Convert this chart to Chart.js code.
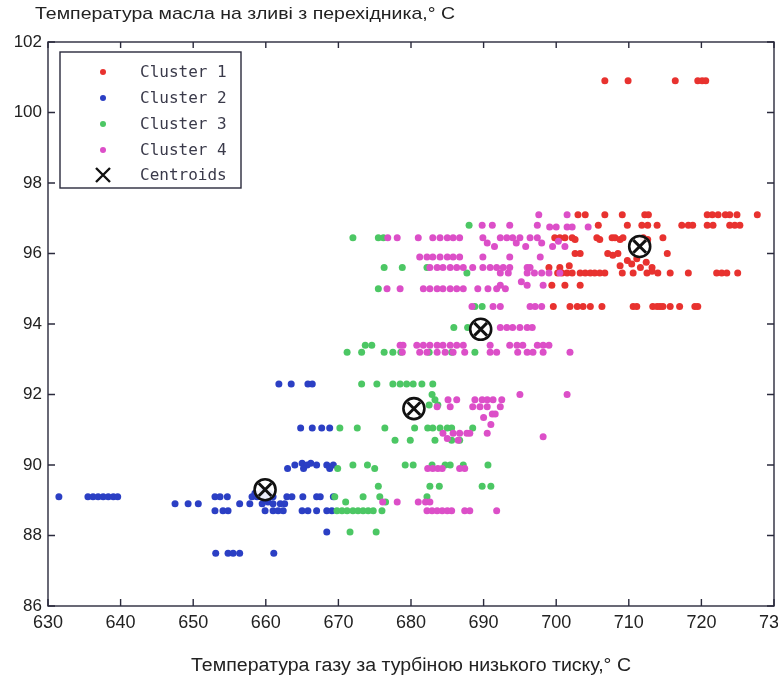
<!DOCTYPE html>
<html><head><meta charset="utf-8">
<script src="https://cdn.jsdelivr.net/npm/chart.js@4/dist/chart.umd.min.js"></script>
<style>
html,body{margin:0;padding:0;background:#fff;overflow:hidden;}
#wrap{position:relative;width:800px;height:684px;}
</style></head><body>
<div id="wrap"><canvas id="c" width="800" height="684"></canvas></div>
<script>
const xTicks = [630,640,650,660,670,680,690,700,710,720,730];
const yTicks = [86,88,90,92,94,96,98,100,102];
const yTitle = 'Температура масла на зливі з перехідника,° C';
const xTitle = 'Температура газу за турбіною низького тиску,° C';
const seriesNames = ['Cluster 1','Cluster 2','Cluster 3','Cluster 4','Centroids'];

const cluster1 = [
[706.7,100.9],[709.9,100.9],[716.4,100.9],[719.5,100.9],[720.1,100.9],[720.6,100.9],
[703.0,97.1],[704.0,97.1],[706.7,97.1],[709.1,97.1],[712.2,97.1],[712.7,97.1],[720.8,97.1],[721.5,97.1],[722.3,97.1],[723.3,97.1],[723.9,97.1],[724.9,97.1],[727.7,97.1],
[705.8,96.8],[709.8,96.8],[711.8,96.8],[712.6,96.8],[713.9,96.8],[717.3,96.8],[718.2,96.8],[718.8,96.8],[720.8,96.8],[721.6,96.8],[723.9,96.8],[724.6,96.8],[725.3,96.8],
[699.8,96.45],[700.5,96.45],[701.2,96.45],[702.2,96.45],[702.6,96.4],[705.6,96.45],[706.0,96.4],[707.7,96.45],[708.1,96.45],[708.8,96.4],[709.2,96.45],[712.0,96.45],[712.6,96.4],[714.7,96.45],
[702.6,96.0],[703.3,96.0],[707.1,96.0],[707.8,95.95],[708.5,96.0],[715.3,96.0],
[708.8,95.65],[709.8,95.8],[710.4,95.7],[711.1,95.85],[711.6,95.6],[712.4,95.75],[713.2,95.6],
[699.0,95.6],[700.5,95.6],[701.8,95.65],
[700.2,95.45],[700.8,95.45],[701.5,95.45],[702.2,95.45],[703.3,95.45],[704.0,95.45],[704.7,95.45],[705.3,95.45],[706.0,95.45],[706.7,95.45],[709.1,95.45],[710.6,95.45],[712.5,95.45],[713.2,95.5],[714.0,95.45],[715.7,95.45],[718.2,95.45],[722.1,95.45],[722.8,95.45],[723.5,95.45],[725.0,95.45],
[699.4,95.1],[701.2,95.1],[703.3,95.1],
[699.6,94.5],[701.9,94.5],[702.9,94.5],[703.7,94.5],[704.7,94.5],[706.3,94.5],[710.6,94.5],[711.1,94.5],[713.3,94.5],[713.9,94.5],[714.3,94.5],[714.7,94.5],[715.7,94.5],[717.0,94.5],[719.1,94.5],[719.5,94.5]
];

const cluster2 = [
[661.8,92.3],[663.5,92.3],[665.8,92.3],[666.4,92.3],
[664.8,91.05],[666.4,91.05],[667.7,91.05],[668.8,91.05],
[664.0,90.0],[665.0,90.05],[665.7,90.0],[666.2,90.05],[667.0,90.0],[668.4,90.0],[669.3,90.0],
[663.0,89.9],[665.2,89.9],[668.8,89.9],
[631.5,89.1],[635.5,89.1],[636.2,89.1],[636.9,89.1],[637.6,89.1],[638.3,89.1],[639.0,89.1],[639.6,89.1],[653.0,89.1],[653.7,89.1],[654.7,89.1],[658.1,89.1],[658.8,89.1],[659.5,89.1],[660.2,89.1],[661.0,89.1],[662.9,89.1],[663.6,89.1],[665.1,89.1],[667.0,89.1],[667.5,89.1],[669.3,89.1],
[658.5,89.2],[659.5,89.25],[660.5,89.2],
[647.5,88.9],[649.3,88.9],[650.7,88.9],[656.4,88.9],[657.8,88.9],[659.5,88.9],[660.3,88.95],[661.0,88.9],[662.0,88.9],[662.6,88.9],
[653.0,88.7],[654.1,88.7],[654.8,88.7],[659.9,88.7],[661.0,88.7],[661.7,88.7],[662.4,88.7],[665.0,88.7],[665.8,88.7],[667.0,88.7],[668.4,88.7],[669.1,88.7],
[668.4,88.1],
[653.1,87.5],[654.8,87.5],[655.5,87.5],[656.4,87.5],[661.1,87.5]
];

const cluster3 = [
[688.0,96.8],
[672.0,96.45],[675.5,96.45],[676.2,96.45],
[676.3,95.6],[678.8,95.6],[682.2,95.6],[687.7,95.45],
[675.5,95.0],
[689.8,94.5],[688.8,94.5],
[685.9,93.9],[687.8,93.9],
[673.7,93.4],[674.6,93.4],
[671.2,93.2],[673.2,93.2],[676.3,93.2],[677.5,93.2],[678.6,93.2],[682.5,93.2],[685.6,93.2],[688.8,93.2],
[673.2,92.3],[675.3,92.3],[677.5,92.3],[678.5,92.3],[679.4,92.3],[680.3,92.3],[681.5,92.3],[683.0,92.3],
[682.9,92.0],[683.3,91.85],[683.7,91.7],[682.5,91.7],
[670.2,91.05],[672.6,91.05],[676.4,91.05],[680.5,91.05],[682.3,91.05],[683.0,91.05],[684.0,91.05],[685.0,91.05],[685.6,91.05],[688.5,91.05],
[677.8,90.7],[679.9,90.7],[683.3,90.7],[685.6,90.7],[686.7,90.7],
[672.0,90.0],[674.0,90.0],[679.2,90.0],[680.3,90.0],[682.9,90.0],[684.7,90.0],[685.4,90.0],[687.2,90.0],[690.6,90.0],
[669.9,89.9],[675.0,89.9],
[675.5,89.4],[682.6,89.4],[683.9,89.4],[689.8,89.4],[691.0,89.4],
[669.5,89.1],[673.4,89.1],[675.7,89.1],[682.2,89.1],
[671.0,88.95],[676.5,88.95],
[669.8,88.7],[670.5,88.7],[671.2,88.7],[672.0,88.7],[672.7,88.7],[673.4,88.7],[674.1,88.7],[674.8,88.7],[676.0,88.7],
[671.6,88.1],[675.2,88.1]
];

const cluster4 = [
[697.6,97.1],[701.5,97.1],
[689.8,96.8],[691.2,96.8],[693.6,96.8],[697.4,96.8],
[699.1,96.75],[700.0,96.75],[701.5,96.75],[702.2,96.75],[704.4,96.75],
[676.8,96.45],[678.1,96.45],[681.0,96.45],[683.0,96.45],[684.0,96.45],[685.0,96.45],[685.8,96.45],[686.7,96.45],[689.9,96.45],[692.3,96.45],[693.2,96.45],[694.0,96.45],[695.0,96.45],[696.4,96.45],[697.4,96.45],
[690.5,96.3],[691.5,96.2],[694.5,96.3],[695.8,96.2],[698.0,96.3],[699.5,96.2],[700.3,96.35],[701.2,96.2],
[681.2,95.9],[682.2,95.9],[683.0,95.9],[684.0,95.9],[685.0,95.9],[685.8,95.9],[686.7,95.9],[689.9,95.9],[693.6,95.9],[697.8,95.9],
[682.6,95.6],[683.6,95.6],[684.4,95.6],[685.4,95.6],[686.3,95.6],[687.2,95.6],[688.5,95.6],[689.9,95.6],[690.9,95.6],[691.8,95.6],[692.7,95.6],[693.6,95.6],[696.0,95.6],[696.4,95.6],
[692.3,95.45],[693.4,95.45],[696.0,95.45],[697.0,95.45],[698.0,95.45],[699.0,95.45],[700.5,95.45],
[692.3,95.1],[696.0,95.1],[698.2,95.1],[695.2,95.2],
[676.7,95.0],[678.5,95.0],[681.7,95.0],[682.6,95.0],[683.6,95.0],[684.4,95.0],[685.4,95.0],[686.3,95.0],[687.2,95.0],[689.2,95.0],[690.6,95.0],[691.8,95.0],[693.0,95.0],
[688.4,94.5],[691.3,94.5],[692.3,94.5],[696.4,94.5],[697.1,94.5],[698.0,94.5],
[692.3,93.9],[693.2,93.9],[694.0,93.9],[695.0,93.9],[696.0,93.9],[696.7,93.9],
[678.5,93.4],[678.9,93.4],[680.8,93.4],[681.7,93.4],[682.6,93.4],[683.6,93.4],[684.4,93.4],[685.4,93.4],[686.3,93.4],[687.2,93.4],[690.9,93.4],[693.6,93.4],[694.6,93.4],[695.4,93.4],[697.4,93.4],[698.2,93.4],[699.0,93.4],
[678.8,93.2],[681.2,93.2],[682.2,93.2],[683.6,93.2],[684.7,93.2],[685.8,93.2],[687.4,93.2],[690.9,93.2],[691.8,93.2],[694.7,93.2],[696.0,93.2],[696.8,93.2],[698.2,93.2],[701.9,93.2],
[695.0,92.0],[701.5,92.0],
[685.1,91.85],[686.3,91.85],[688.8,91.85],[689.8,91.85],[690.5,91.85],[691.3,91.85],[692.5,91.85],
[683.6,91.65],[685.4,91.65],[688.5,91.65],[689.5,91.65],[690.5,91.65],[692.3,91.65],
[691.2,91.45],[691.6,91.45],[690.0,91.35],[691.0,91.15],
[684.4,90.9],[685.8,90.9],[686.7,90.9],[687.7,90.9],[688.1,90.9],[690.5,90.9],
[698.2,90.8],[685.0,90.75],[686.5,90.7],
[682.3,89.9],[683.0,89.9],[683.7,89.9],[684.3,89.9],[686.7,89.9],[687.4,89.9],
[676.1,88.95],[678.1,88.95],[681.0,88.95],[682.0,88.95],[682.6,88.95],
[682.2,88.7],[682.9,88.7],[683.6,88.7],[684.3,88.7],[685.0,88.7],[685.6,88.7],[687.4,88.7],[688.1,88.7],[691.8,88.7]
];

const centroids = [[711.5,96.2],[659.9,89.3],[680.4,91.6],[689.6,93.85]];

const colors = ['#e8322f','#2b3fc4','#4cc764','#dc4fc8','#111111'];
const pts = a => a.map(p => ({x:p[0], y:p[1]}));
const clusters = [cluster1, cluster2, cluster3, cluster4];

const datasets = clusters.map((c,i)=>({
  label: seriesNames[i], data: pts(c), order: 5-i,
  pointStyle:'circle', pointRadius:3.5, borderWidth:0,
  backgroundColor: colors[i], borderColor: colors[i]
}));
datasets.push({label:seriesNames[4], data: pts(centroids), order:1, pointStyle:'circle', pointRadius:10.5,
  backgroundColor:'rgba(255,255,255,0.9)', borderColor:'#111', borderWidth:2.6});
datasets.push({label:seriesNames[4], data: pts(centroids), order:0, pointStyle:'crossRot', pointRadius:9,
  borderColor:'#111', borderWidth:3});

function drawFit(ctx, text, x, y, font, targetW, align){
  ctx.save();
  ctx.font = font;
  const w = ctx.measureText(text).width;
  const sx = targetW / w;
  const x0 = align === 'center' ? x - targetW/2 : x;
  ctx.translate(x0, y);
  ctx.scale(sx, 1);
  ctx.textAlign = 'left';
  ctx.textBaseline = 'middle';
  ctx.fillText(text, 0, 0);
  ctx.restore();
}

const framePlugin = {
  id:'frame',
  afterDraw(chart){
    const {ctx, chartArea:{left,right,top,bottom}, scales:{x,y}} = chart;
    ctx.save();
    ctx.strokeStyle = '#2a2a3c';
    ctx.lineWidth = 1.4;
    ctx.strokeRect(left, top, right-left, bottom-top);
    ctx.beginPath();
    xTicks.forEach(v=>{
      const px = x.getPixelForValue(v);
      ctx.moveTo(px, bottom); ctx.lineTo(px, bottom-7);
      ctx.moveTo(px, top); ctx.lineTo(px, top+6);
    });
    yTicks.forEach(v=>{
      const py = y.getPixelForValue(v);
      ctx.moveTo(left, py); ctx.lineTo(left+7, py);
      ctx.moveTo(right, py); ctx.lineTo(right-7, py);
    });
    ctx.stroke();

    // legend
    const lx = 60, ly = 52, lw = 181, lh = 136;
    ctx.fillStyle = '#fff';
    ctx.fillRect(lx, ly, lw, lh);
    ctx.strokeStyle = '#2a2a3c';
    ctx.lineWidth = 1.4;
    ctx.strokeRect(lx, ly, lw, lh);
    const rows = [72, 98, 124, 150, 175];
    ctx.font = '16px "DejaVu Sans Mono", "Liberation Mono", monospace';
    ctx.textBaseline = 'middle';
    ctx.textAlign = 'left';
    seriesNames.forEach((name, i)=>{
      const cy = rows[i];
      if (i < 4){
        ctx.fillStyle = colors[i];
        ctx.beginPath(); ctx.arc(103, cy, 3, 0, Math.PI*2); ctx.fill();
      } else {
        ctx.strokeStyle = '#111'; ctx.lineWidth = 2.4;
        ctx.beginPath();
        ctx.moveTo(96, cy-7); ctx.lineTo(110, cy+7);
        ctx.moveTo(110, cy-7); ctx.lineTo(96, cy+7);
        ctx.stroke();
      }
      ctx.fillStyle = '#3a3a4a';
      ctx.fillText(name, 140, cy+1);
    });

    // axis titles
    ctx.fillStyle = '#222';
    drawFit(ctx, yTitle, 35, 14, '17px "Liberation Sans", Arial, sans-serif', 420, 'left');
    drawFit(ctx, xTitle, (left+right)/2, 666, '18px "Liberation Sans", Arial, sans-serif', 440, 'center');
    ctx.restore();
  }
};

new Chart(document.getElementById('c'), {
  type:'scatter',
  data:{datasets},
  options:{
    responsive:false, animation:false, devicePixelRatio:1,
    layout:{padding:{left:0, right:26, top:42, bottom:0}},
    plugins:{legend:{display:false}, tooltip:{enabled:false}, title:{display:false}},
    scales:{
      x:{type:'linear', min:630, max:730,
        afterBuildTicks: s => { s.ticks = xTicks.map(v=>({value:v})); },
        afterFit: s => { s.height = 78; },
        grid:{display:false, drawTicks:false}, border:{display:false},
        ticks:{padding:6, maxRotation:0, autoSkip:false, color:'#222',
          font:{family:'"Liberation Sans", Arial', size:18}}
      },
      y:{type:'linear', min:86, max:102,
        afterBuildTicks: s => { s.ticks = yTicks.map(v=>({value:v})); },
        afterFit: s => { s.width = 48; },
        grid:{display:false, drawTicks:false}, border:{display:false},
        ticks:{padding:6, autoSkip:false, color:'#222',
          font:{family:'"Liberation Sans", Arial', size:17}}
      }
    }
  },
  plugins:[framePlugin]
});
</script>
</body></html>
